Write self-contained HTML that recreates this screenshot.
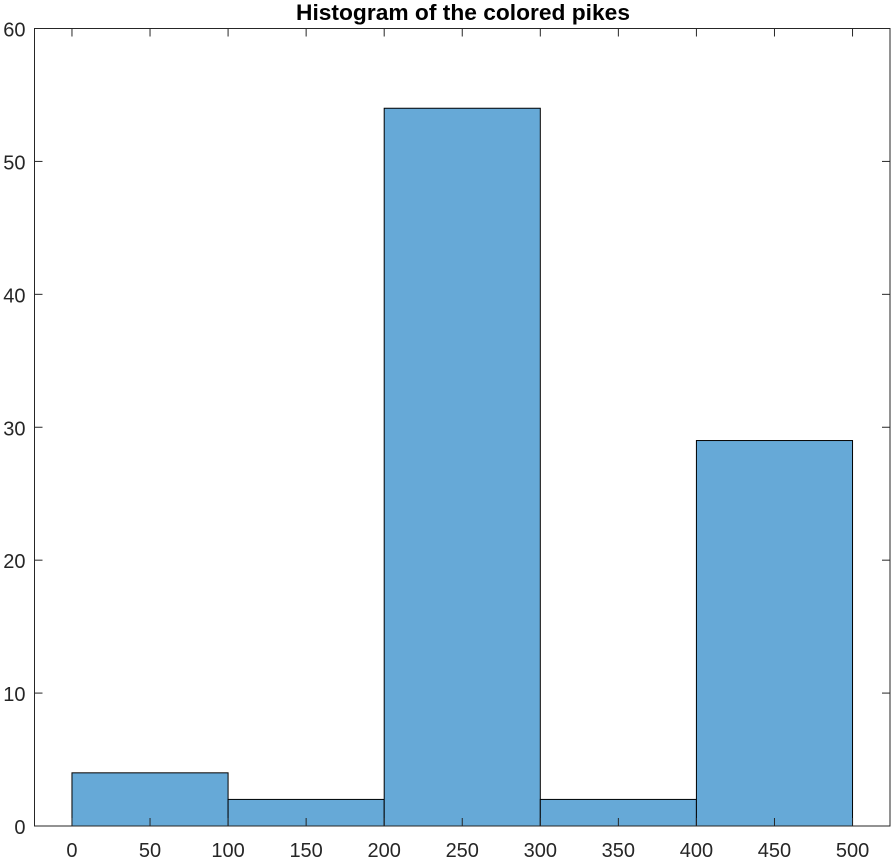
<!DOCTYPE html>
<html><head><meta charset="utf-8"><style>
body{margin:0;background:#fff;}
svg text{font-family:"Liberation Sans",Arial,sans-serif;fill:#262626;}
</style></head><body>
<svg id="chart" width="893" height="859" xmlns="http://www.w3.org/2000/svg">
<g id="bars"></g>
<g id="axes"></g>
<text x="463" y="20" text-anchor="middle" font-size="22" font-weight="bold" textLength="334" lengthAdjust="spacingAndGlyphs" style="fill:#000">Histogram of the colored pikes</text>
</svg>
<script>
const binEdges=[0,100,200,300,400,500];
const counts=[4,2,54,2,29];
const xTicks=[0,50,100,150,200,250,300,350,400,450,500];
const yTicks=[0,10,20,30,40,50,60];
const L=34.5,R=890,T=28.5,B=826;
const xMin=-24,xMax=524,yMin=0,yMax=60;
const sx=v=>L+(v-xMin)/(xMax-xMin)*(R-L);
const sy=v=>B-(v-yMin)/(yMax-yMin)*(B-T);
const NS="http://www.w3.org/2000/svg";
const bars=document.getElementById('bars'),axes=document.getElementById('axes');
function mk(tag,attrs,parent){const e=document.createElementNS(NS,tag);for(const k in attrs)e.setAttribute(k,attrs[k]);parent.appendChild(e);return e;}
counts.forEach((c,i)=>{
 const x0=sx(binEdges[i]),x1=sx(binEdges[i+1]);
 const r=mk('rect',{x:x0,y:sy(c),width:x1-x0,height:sy(0)-sy(c),fill:'#66a9d7',stroke:'#000','stroke-width':1},bars);
 
 
});
const box=mk('rect',{x:L,y:T,width:R-L,height:B-T,fill:'none',stroke:'#262626','stroke-width':1},axes);


xTicks.forEach(v=>{
 const x=sx(v);
 mk('line',{x1:x,x2:x,y1:B,y2:B-8,stroke:'#262626'},axes);
 mk('line',{x1:x,x2:x,y1:T,y2:T+8,stroke:'#262626'},axes);
 const t=mk('text',{x:x,y:B+31,'text-anchor':'middle','font-size':20},axes);
 t.textContent=v;
 
 
});
yTicks.forEach(v=>{
 const y=sy(v);
 mk('line',{x1:L,x2:L+8,y1:y,y2:y,stroke:'#262626'},axes);
 mk('line',{x1:R,x2:R-8,y1:y,y2:y,stroke:'#262626'},axes);
 const t=mk('text',{x:L-9,y:y+8,'text-anchor':'end','font-size':20},axes);
 t.textContent=v;
 
 
});
</script>
</body></html>
